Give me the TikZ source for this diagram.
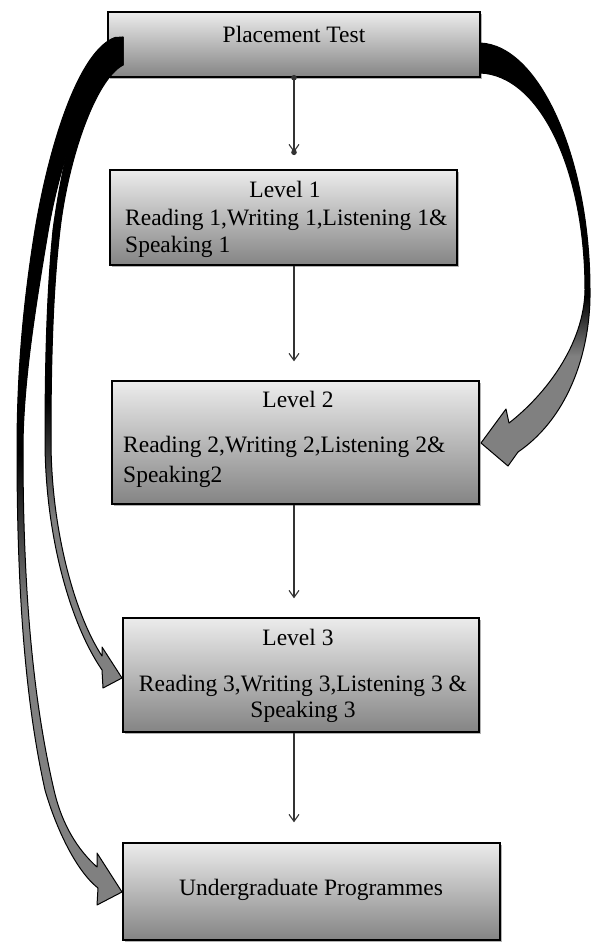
\documentclass[tikz,border=0pt]{standalone}
\usepackage{fontspec}
\setmainfont{Liberation Serif}
\usetikzlibrary{arrows.meta,shadows,calc}
\definecolor{boxtop}{RGB}{236,236,236}
\definecolor{boxbot}{RGB}{132,132,132}
\definecolor{arrgray}{RGB}{128,128,128}
\pgfdeclareverticalshading{shRight}{100bp}{color(0bp)=(arrgray); color(38bp)=(arrgray); color(45bp)=(black); color(100bp)=(black)}
\pgfdeclareverticalshading{shOuter}{100bp}{color(0bp)=(arrgray); color(42bp)=(arrgray); color(51bp)=(black); color(100bp)=(black)}
\pgfdeclareverticalshading{shInner}{100bp}{color(0bp)=(arrgray); color(38bp)=(arrgray); color(47bp)=(black); color(100bp)=(black)}
\tikzset{
  box/.style={draw=black, line width=1.4pt, top color=boxtop, bottom color=boxbot,
    drop shadow={shadow xshift=2pt, shadow yshift=-2pt, fill=black!50, opacity=0.6},
    inner sep=0pt},
  lbl/.style={font=\fontsize{23.5}{27}\selectfont, inner sep=0pt, text=black},
  conn/.style={draw=black!80, line width=1.1pt, -{Straight Barb[length=7pt,width=10pt]}},
  blockarrow/.style={draw=black, line width=1pt, line join=round}
}
\begin{document}
\begin{tikzpicture}[x=1pt,y=-1pt]
\useasboundingbox (0,0) rectangle (590,943);
% boxes
\node[box, minimum width=372pt, minimum height=65pt] (pt) at (294,44.5) {};
\node[box, minimum width=347pt, minimum height=95pt] (l1) at (283.5,217.5) {};
\node[box, minimum width=367pt, minimum height=123pt] (l2) at (295.5,442.5) {};
\node[box, minimum width=356pt, minimum height=114pt] (l3) at (301,675) {};
\node[box, minimum width=377pt, minimum height=97pt] (ug) at (311.5,891.5) {};
% texts
\node[lbl, anchor=base] (tpt) at (294,42) {Placement Test};
\node[lbl, anchor=base] (t1a) at (285,197) {Level 1};
\node[lbl, anchor=base west] (t1b) at (125,225) {Reading 1,Writing 1,Listening 1\&};
\node[lbl, anchor=base west] (t1c) at (125,252) {Speaking 1};
\node[lbl, anchor=base] (t2a) at (298,407) {Level 2};
\node[lbl, anchor=base west] (t2b) at (123,452) {Reading 2,Writing 2,Listening 2\&};
\node[lbl, anchor=base west] (t2c) at (123,482) {Speaking2};
\node[lbl, anchor=base] (t3a) at (298,645) {Level 3};
\node[lbl, anchor=base] (t3b) at (303,691) {Reading 3,Writing 3,Listening 3 \&};
\node[lbl, anchor=base] (t3c) at (303,717) {Speaking 3};
\node[lbl, anchor=base] (tug) at (311,895) {Undergraduate Programmes};
% vertical connectors
\coordinate (e1) at ($(pt.south |- l1.north)+(0,-17)$);
\draw[conn] (pt.south) -- (e1);
\fill[black!80] (pt.south) circle (2.8pt);
\fill[black!80] (e1) circle (2.8pt);
\draw[conn, shorten >=19pt] (pt.south |- l1.south) -- (pt.south |- l2.north);
\draw[conn, shorten >=19pt] (pt.south |- l2.south) -- (pt.south |- l3.north);
\draw[conn, shorten >=20pt] (pt.south |- l3.south) -- (pt.south |- ug.north);
% right block arrow: Placement Test -> Level 2
\path[blockarrow, shading=shRight] (480,43) .. controls (540,45) and (590,160) .. (590,290)
  .. controls (591,345) and (572,415) .. (518,452) -- (508,466) -- (481,443) -- (506,409) -- (509,423)
  .. controls (545,395) and (584,345) .. (585,290)
  .. controls (585,170) and (540,75) .. (480,73) -- cycle;
% left outer block arrow: Placement Test -> Undergraduate Programmes
\path[blockarrow, shading=shOuter] (123,37) -- (115,37.5) .. controls (80,50) and (50,140) .. (35,230)
  .. controls (22,310) and (17,380) .. (17,450)
  .. controls (17,590) and (25,700) .. (45,790)
  .. controls (55,825) and (75,870) .. (98,888) -- (97,905) -- (122,892) -- (97,853) -- (97,867)
  .. controls (78,850) and (62,825) .. (54,790)
  .. controls (33,700) and (23,590) .. (23,450)
  .. controls (23,385) and (35,310) .. (48,232)
  .. controls (62,150) and (90,85) .. (112,68) -- (123,65) -- cycle;
% left inner block arrow: Placement Test -> Level 3
\path[blockarrow, shading=shInner] (123,37) -- (118,40) .. controls (90,55) and (65,140) .. (53,230)
  .. controls (47,290) and (45,360) .. (45,440)
  .. controls (45,530) and (68,620) .. (102,670) -- (103,688) -- (122,678) -- (102,647) -- (102,656)
  .. controls (75,615) and (51,530) .. (51,440)
  .. controls (51,360) and (53,290) .. (60,230)
  .. controls (68,160) and (95,80) .. (123,65) -- cycle;
\end{tikzpicture}
\end{document}
